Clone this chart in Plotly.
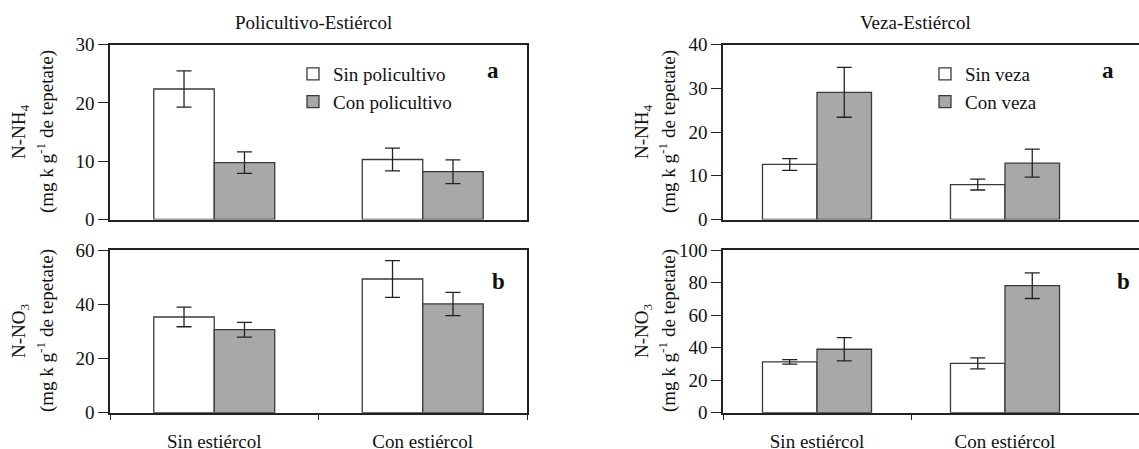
import plotly.graph_objects as go

# ---- data ----
categories = ["Sin estiércol", "Con estiércol"]

# Policultivo-Estiércol
poli_nh4_sin = [22.4, 10.3]
poli_nh4_sin_err = [3.1, 1.95]
poli_nh4_con = [9.75, 8.2]
poli_nh4_con_err = [1.85, 2.05]
poli_no3_sin = [35.3, 49.3]
poli_no3_sin_err = [3.6, 6.8]
poli_no3_con = [30.6, 40.1]
poli_no3_con_err = [2.7, 4.3]

# Veza-Estiércol
veza_nh4_sin = [12.6, 8.0]
veza_nh4_sin_err = [1.35, 1.25]
veza_nh4_con = [29.1, 12.9]
veza_nh4_con_err = [5.7, 3.2]
veza_no3_sin = [31.2, 30.3]
veza_no3_sin_err = [1.4, 3.4]
veza_no3_con = [39.0, 78.1]
veza_no3_con_err = [7.2, 7.9]

poli_names = ["Sin policultivo", "Con policultivo"]
veza_names = ["Sin veza", "Con veza"]

W, H = 1139, 449
FONT = "Liberation Serif"
FS = 19
WHITE = "#ffffff"
GRAY = "#a8a8a8"
EDGE = "#3a3a3a"
AX = "#222222"

xpos = list(range(len(categories)))


def px_x(p):
    return p / W


def px_y(p):
    return 1 - p / H


fig = go.Figure()


def add_bar(y, err, name, color, xa, ya, legend, show):
    fig.add_trace(go.Bar(
        x=xpos, y=y, name=name,
        marker=dict(color=color, line=dict(color=EDGE, width=1.3)),
        error_y=dict(type="data", array=err, visible=True, color=AX,
                     thickness=1.3, width=7.5),
        xaxis=xa, yaxis=ya, legend=legend, showlegend=show,
    ))


add_bar(poli_nh4_sin, poli_nh4_sin_err, poli_names[0], WHITE, "x", "y", "legend", True)
add_bar(poli_nh4_con, poli_nh4_con_err, poli_names[1], GRAY, "x", "y", "legend", True)
add_bar(poli_no3_sin, poli_no3_sin_err, poli_names[0], WHITE, "x2", "y2", "legend", False)
add_bar(poli_no3_con, poli_no3_con_err, poli_names[1], GRAY, "x2", "y2", "legend", False)
add_bar(veza_nh4_sin, veza_nh4_sin_err, veza_names[0], WHITE, "x3", "y3", "legend2", True)
add_bar(veza_nh4_con, veza_nh4_con_err, veza_names[1], GRAY, "x3", "y3", "legend2", True)
add_bar(veza_no3_sin, veza_no3_sin_err, veza_names[0], WHITE, "x4", "y4", "legend2", False)
add_bar(veza_no3_con, veza_no3_con_err, veza_names[1], GRAY, "x4", "y4", "legend2", False)

left_dom = [px_x(110), px_x(527)]
right_dom = [px_x(723), 1.0]
top_dom = [px_y(219.5), px_y(44.7)]
bot_dom = [px_y(412.7), px_y(250)]
right_range = [-0.5, (W - 723) / 188 - 0.5]

tickfont = dict(family=FONT, size=FS, color="#111")


def xax(domain, anchor, rng, bottom, boundaries, mirror=True):
    d = dict(domain=domain, anchor=anchor, type="linear", automargin=False,
             range=rng, showline=True, linecolor=AX, linewidth=1.5,
             mirror=mirror, showgrid=False, zeroline=False,
             tickfont=tickfont, fixedrange=True)
    if bottom:
        d.update(tickmode="array", tickvals=xpos, ticktext=categories,
                 ticks="", showticklabels=True, ticklabelstandoff=11,
                 minor=dict(tickmode="array", tickvals=boundaries,
                            ticks="outside", ticklen=6, tickcolor=AX,
                            tickwidth=1.2, showgrid=False))
    else:
        d.update(ticks="", showticklabels=False)
    return d


def yax(domain, anchor, rng, dtick, mirror=True):
    return dict(domain=domain, anchor=anchor, range=rng, dtick=dtick,
                tick0=0, showline=True, linecolor=AX, linewidth=1.5,
                mirror=mirror, showgrid=False, zeroline=False,
                automargin=False,
                ticks="outside", ticklen=10, tickcolor=AX, tickwidth=1.2,
                tickfont=tickfont, fixedrange=True)


annotations = []


def ann(x, y, text, size=FS, angle=0):
    annotations.append(dict(
        x=px_x(x), y=px_y(y), xref="paper", yref="paper", text=text,
        showarrow=False, textangle=angle, xanchor="center", yanchor="middle",
        font=dict(family=FONT, size=size, color="#111")))


# panel titles
ann(313, 23, "Policultivo-Estiércol")
ann(915, 23, "Veza-Estiércol")

# y-axis titles
for cx1, cx2, cy, lab in [
    (20, 45, 132, "N-NH<sub>4</sub>"),
    (20, 45, 331, "N-NO<sub>3</sub>"),
    (643, 667, 132, "N-NH<sub>4</sub>"),
    (643, 667, 331, "N-NO<sub>3</sub>"),
]:
    ann(cx1, cy, lab, angle=-90)
    ann(cx2, cy, "(mg k g<sup>-1</sup> de tepetate)", angle=-90)

# panel letters
ann(493, 71, "<b>a</b>", size=23)
ann(498, 281, "<b>b</b>", size=23)
ann(1108, 71, "<b>a</b>", size=23)
ann(1123, 281, "<b>b</b>", size=23)

legend_font = dict(family=FONT, size=FS, color="#111")

fig.update_layout(
    width=W, height=H,
    margin=dict(l=0, r=0, t=0, b=0, autoexpand=False),
    paper_bgcolor="white", plot_bgcolor="white",
    barmode="group", bargap=0.42, bargroupgap=0,
    showlegend=True,
    xaxis=xax(left_dom, "y", [-0.5, 1.5], False, []),
    yaxis=yax(top_dom, "x", [0, 30], 10),
    xaxis2=xax(left_dom, "y2", [-0.5, 1.5], True, [-0.5, 0.5, 1.5]),
    yaxis2=yax(bot_dom, "x2", [0, 60], 20),
    xaxis3=xax(right_dom, "y3", right_range, False, []),
    yaxis3=yax(top_dom, "x3", [0, 40], 10, mirror=False),
    xaxis4=xax(right_dom, "y4", right_range, True, [-0.5, 0.5]),
    yaxis4=yax(bot_dom, "x4", [0, 100], 20, mirror=False),
    legend=dict(x=px_x(293), y=px_y(55), xanchor="left", yanchor="top",
                bgcolor="rgba(0,0,0,0)", font=legend_font,
                itemwidth=30, traceorder="normal", tracegroupgap=0),
    legend2=dict(x=px_x(925), y=px_y(55), xanchor="left", yanchor="top",
                 bgcolor="rgba(0,0,0,0)", font=legend_font,
                 itemwidth=30, traceorder="normal", tracegroupgap=0),
    annotations=annotations,
)

fig.write_html("out.html")
